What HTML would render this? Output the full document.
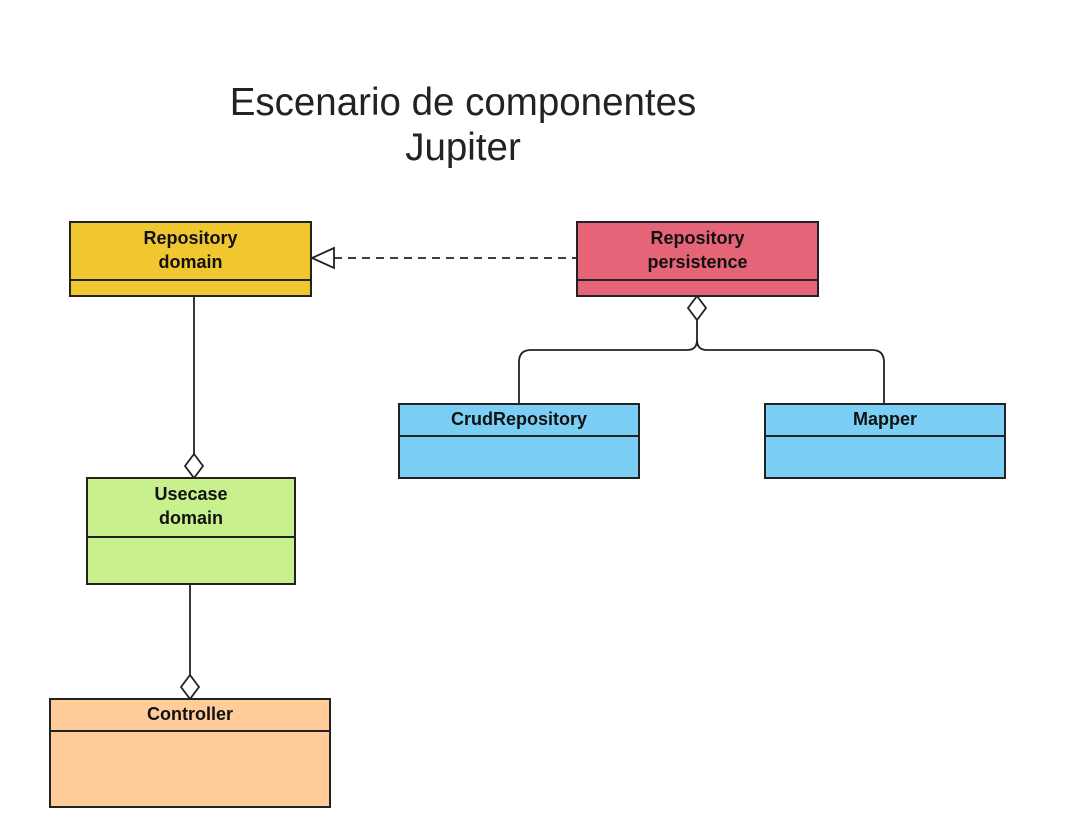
<!DOCTYPE html>
<html><head><style>
body{margin:0;background:#fff;width:1080px;height:826px;overflow:hidden;position:relative;font-family:"Liberation Sans",sans-serif}
.t{position:absolute;left:180px;width:566px;text-align:center;font-size:38.5px;color:#222;line-height:45px;top:80px}
.b{position:absolute;border:2px solid #222;box-sizing:border-box}
.h{border-bottom:2px solid #222;box-sizing:border-box;text-align:center;font-weight:bold;font-size:18px;line-height:24px;color:#111}
</style></head><body>
<div class="t">Escenario de componentes<br>Jupiter</div>
<svg width="1080" height="826" style="position:absolute;left:0;top:0">
<g stroke="#222" stroke-width="1.8" fill="none">
<line x1="194" y1="296" x2="194" y2="454"/>
<path d="M194 454 l9 12 l-9 12 l-9 -12 z" fill="#fff"/>
<line x1="190" y1="584" x2="190" y2="675"/>
<path d="M190 675 l9 12 l-9 12 l-9 -12 z" fill="#fff"/>
<line x1="334" y1="258" x2="576" y2="258" stroke-dasharray="8,6"/>
<path d="M334 248 L312 258 L334 268 Z" fill="#fff"/>
<path d="M697 296 l9 12 l-9 12 l-9 -12 z" fill="#fff"/>
<path d="M697 320 v20 q0 10 -10 10 h-156 q-12 0 -12 12 v41"/>
<path d="M697 340 q0 10 10 10 h165 q12 0 12 12 v41"/>
</g></svg>
<div class="b" style="left:69px;top:221px;width:243px;height:76px;background:#f1c72f"><div class="h" style="height:58px;padding-top:3px">Repository<br>domain</div></div>
<div class="b" style="left:576px;top:221px;width:243px;height:76px;background:#e66478"><div class="h" style="height:58px;padding-top:3px">Repository<br>persistence</div></div>
<div class="b" style="left:398px;top:403px;width:242px;height:76px;background:#7bcff4"><div class="h" style="height:32px;padding-top:2px">CrudRepository</div></div>
<div class="b" style="left:764px;top:403px;width:242px;height:76px;background:#7bcff4"><div class="h" style="height:32px;padding-top:2px">Mapper</div></div>
<div class="b" style="left:86px;top:477px;width:210px;height:108px;background:#c8f08c"><div class="h" style="height:59px;padding-top:3px">Usecase<br>domain</div></div>
<div class="b" style="left:49px;top:698px;width:282px;height:110px;background:#ffcc9a"><div class="h" style="height:32px;padding-top:2px">Controller</div></div>
</body></html>
